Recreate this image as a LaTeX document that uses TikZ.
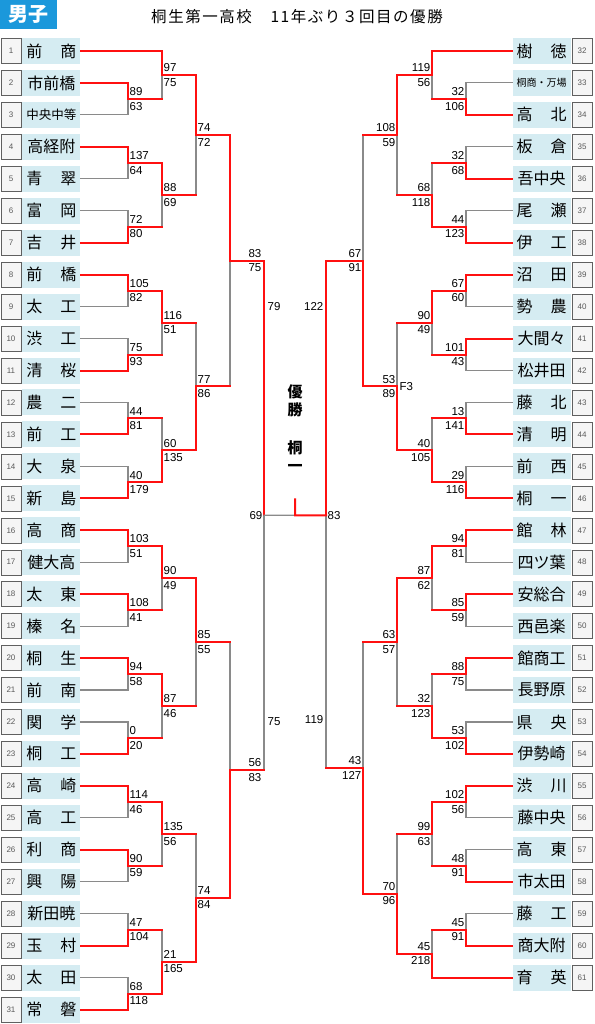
\documentclass[tikz,border=0pt]{standalone}
\usepackage{fontspec}
\setmainfont{Liberation Sans}
\newfontfamily\jp{Noto Sans CJK JP}
\newfontfamily\jpt[LetterSpace=10]{Noto Sans CJK JP}
\usetikzlibrary{positioning,calc}

\definecolor{hdrblue}{HTML}{1B98DB}
\definecolor{namefill}{HTML}{D5ECF2}
\definecolor{winred}{HTML}{FF1010}
\definecolor{lossgray}{HTML}{8A8A8A}

\newcommand{\bmatch}[9]{%
  \coordinate (#4t) at (#2 -| #1,0);
  \coordinate (#4b) at (#3 -| #1,0);
  \coordinate (#4) at ($(#4t)!.5!(#4b)$);
  \ifnum#5>#6\relax
    \draw[grayln] (#4) -- (#4b);
    \draw[#8] (#3) -- (#4b);
    \draw[#7] (#2) -- (#4t);
    \draw[redln] (#4t) -- (#4);
  \else
    \draw[grayln] (#4t) -- (#4);
    \draw[#7] (#2) -- (#4t);
    \draw[#8] (#3) -- (#4b);
    \draw[redln] (#4b) -- (#4);
  \fi
  \node[score, above #9] (#4u) at (#4) {#5};
  \node[score, below #9] (#4d) at (#4) {#6};
}

\begin{document}
\begin{tikzpicture}[
  x=1pt, y=-1pt,
  numbox/.style={draw=gray!75!black, fill=gray!8, minimum width=20pt, minimum height=25pt, inner sep=0pt, font=\fontsize{8}{8}\selectfont, text=gray!70!black},
  namebox/.style={fill=namefill, minimum width=58pt, minimum height=26pt, text width=50pt, align=center, inner sep=0pt, font=\jp\fontsize{16}{16}\selectfont},
  redln/.style={draw=winred, line width=2pt, line cap=rect},
  grayln/.style={draw=lossgray, line width=1.1pt, line cap=rect},
  score/.style={font=\fontsize{11.5}{11.5}\selectfont, inner xsep=1.5pt, inner ysep=3pt}]
  \useasboundingbox (0,0) rectangle (594,1024);

  \node[fill=hdrblue, text=white, minimum width=57pt, minimum height=29pt, inner sep=0pt, font=\jp\bfseries\fontsize{20}{20}\selectfont] (sex) at (28.5,14.5) {男子};
  \node[font=\jpt\fontsize{15.5}{15.5}\selectfont] (title) at (297,17) {桐生第一高校　11年ぶり３回目の優勝};

  \foreach \i/\nm in {1/前\hfill 商, 2/市前橋, 3/{\fontsize{12.5}{12.5}\selectfont 中央中等}, 4/高経附, 5/青\hfill 翠, 6/富\hfill 岡, 7/吉\hfill 井, 8/前\hfill 橋, 9/太\hfill 工, 10/渋\hfill 工, 11/清\hfill 桜, 12/農\hfill 二, 13/前\hfill 工, 14/大\hfill 泉, 15/新\hfill 島, 16/高\hfill 商, 17/健大高, 18/太\hfill 東, 19/榛\hfill 名, 20/桐\hfill 生, 21/前\hfill 南, 22/関\hfill 学, 23/桐\hfill 工, 24/高\hfill 崎, 25/高\hfill 工, 26/利\hfill 商, 27/興\hfill 陽, 28/新田暁, 29/玉\hfill 村, 30/太\hfill 田, 31/常\hfill 磐}{
    \node[numbox] (lb\i) at (11,{51+(\i-1)*31.95}) {\i};
    \node[namebox, right=1pt of lb\i] (ln\i) {\nm};
  }
  \foreach \j/\nm in {32/樹\hfill 徳, 33/{\fontsize{10}{10}\selectfont 桐商・万場}, 34/高\hfill 北, 35/板\hfill 倉, 36/吾中央, 37/尾\hfill 瀬, 38/伊\hfill 工, 39/沼\hfill 田, 40/勢\hfill 農, 41/大間々, 42/松井田, 43/藤\hfill 北, 44/清\hfill 明, 45/前\hfill 西, 46/桐\hfill 一, 47/館\hfill 林, 48/四ツ葉, 49/安総合, 50/西邑楽, 51/館商工, 52/長野原, 53/県\hfill 央, 54/伊勢崎, 55/渋\hfill 川, 56/藤中央, 57/高\hfill 東, 58/市太田, 59/藤\hfill 工, 60/商大附, 61/育\hfill 英}{
    \node[numbox] (rb\j) at (582,{51+(\j-32)*31.95}) {\j};
    \node[namebox, left=1pt of rb\j] (rn\j) {\nm};
  }

  % left half
  \bmatch{128}{ln2.east}{ln3.east}{a23}{89}{63}{redln}{grayln}{right}
  \bmatch{162}{ln1.east}{a23}{a13}{97}{75}{redln}{redln}{right}
  \bmatch{128}{ln4.east}{ln5.east}{a45}{137}{64}{redln}{grayln}{right}
  \bmatch{128}{ln6.east}{ln7.east}{a67}{72}{80}{grayln}{redln}{right}
  \bmatch{162}{a45}{a67}{a47}{88}{69}{redln}{redln}{right}
  \bmatch{196}{a13}{a47}{a17}{74}{72}{redln}{redln}{right}
  \bmatch{128}{ln8.east}{ln9.east}{a89}{105}{82}{redln}{grayln}{right}
  \bmatch{128}{ln10.east}{ln11.east}{a1011}{75}{93}{grayln}{redln}{right}
  \bmatch{162}{a89}{a1011}{a811}{116}{51}{redln}{redln}{right}
  \bmatch{128}{ln12.east}{ln13.east}{a1213}{44}{81}{grayln}{redln}{right}
  \bmatch{128}{ln14.east}{ln15.east}{a1415}{40}{179}{grayln}{redln}{right}
  \bmatch{162}{a1213}{a1415}{a1215}{60}{135}{redln}{redln}{right}
  \bmatch{196}{a811}{a1215}{a815}{77}{86}{redln}{redln}{right}
  \bmatch{230}{a17}{a815}{a115}{83}{75}{redln}{redln}{left,xshift=33pt}
  \bmatch{128}{ln16.east}{ln17.east}{a1617}{103}{51}{redln}{grayln}{right}
  \bmatch{128}{ln18.east}{ln19.east}{a1819}{108}{41}{redln}{grayln}{right}
  \bmatch{162}{a1617}{a1819}{a1619}{90}{49}{redln}{redln}{right}
  \bmatch{128}{ln20.east}{ln21.east}{a2021}{94}{58}{redln}{grayln}{right}
  \bmatch{128}{ln22.east}{ln23.east}{a2223}{0}{20}{grayln}{redln}{right}
  \bmatch{162}{a2021}{a2223}{a2023}{87}{46}{redln}{redln}{right}
  \bmatch{196}{a1619}{a2023}{a1623}{85}{55}{redln}{redln}{right}
  \bmatch{128}{ln24.east}{ln25.east}{a2425}{114}{46}{redln}{grayln}{right}
  \bmatch{128}{ln26.east}{ln27.east}{a2627}{90}{59}{redln}{grayln}{right}
  \bmatch{162}{a2425}{a2627}{a2427}{135}{56}{redln}{redln}{right}
  \bmatch{128}{ln28.east}{ln29.east}{a2829}{47}{104}{grayln}{redln}{right}
  \bmatch{128}{ln30.east}{ln31.east}{a3031}{68}{118}{grayln}{redln}{right}
  \bmatch{162}{a2829}{a3031}{a2831}{21}{165}{redln}{redln}{right}
  \bmatch{196}{a2427}{a2831}{a2431}{74}{84}{redln}{redln}{right}
  \bmatch{230}{a1623}{a2431}{a1631}{56}{83}{redln}{redln}{left,xshift=33pt}

  % right half
  \bmatch{466}{rn33.west}{rn34.west}{b3334}{32}{106}{grayln}{redln}{left}
  \bmatch{432}{rn32.west}{b3334}{b3234}{119}{56}{redln}{redln}{left}
  \bmatch{466}{rn35.west}{rn36.west}{b3536}{32}{68}{grayln}{redln}{left}
  \bmatch{466}{rn37.west}{rn38.west}{b3738}{44}{123}{grayln}{redln}{left}
  \bmatch{432}{b3536}{b3738}{b3538}{68}{118}{redln}{redln}{left}
  \bmatch{397}{b3234}{b3538}{b3238}{108}{59}{redln}{redln}{left}
  \bmatch{466}{rn39.west}{rn40.west}{b3940}{67}{60}{redln}{grayln}{left}
  \bmatch{466}{rn41.west}{rn42.west}{b4142}{101}{43}{redln}{grayln}{left}
  \bmatch{432}{b3940}{b4142}{b3942}{90}{49}{redln}{redln}{left}
  \bmatch{466}{rn43.west}{rn44.west}{b4344}{13}{141}{grayln}{redln}{left}
  \bmatch{466}{rn45.west}{rn46.west}{b4546}{29}{116}{grayln}{redln}{left}
  \bmatch{432}{b4344}{b4546}{b4346}{40}{105}{redln}{redln}{left}
  \bmatch{397}{b3942}{b4346}{b3946}{53}{89}{redln}{redln}{left}
  \node[score, right, xshift=1pt] (f3) at (b3946) {F3};
  \bmatch{363}{b3238}{b3946}{b3246}{67}{91}{redln}{redln}{left}
  \bmatch{466}{rn47.west}{rn48.west}{b4748}{94}{81}{redln}{grayln}{left}
  \bmatch{466}{rn49.west}{rn50.west}{b4950}{85}{59}{redln}{grayln}{left}
  \bmatch{432}{b4748}{b4950}{b4750}{87}{62}{redln}{redln}{left}
  \bmatch{466}{rn51.west}{rn52.west}{b5152}{88}{75}{redln}{grayln}{left}
  \bmatch{466}{rn53.west}{rn54.west}{b5354}{53}{102}{grayln}{redln}{left}
  \bmatch{432}{b5152}{b5354}{b5154}{32}{123}{redln}{redln}{left}
  \bmatch{397}{b4750}{b5154}{b4754}{63}{57}{redln}{redln}{left}
  \bmatch{466}{rn55.west}{rn56.west}{b5556}{102}{56}{redln}{grayln}{left}
  \bmatch{466}{rn57.west}{rn58.west}{b5758}{48}{91}{grayln}{redln}{left}
  \bmatch{432}{b5556}{b5758}{b5558}{99}{63}{redln}{redln}{left}
  \bmatch{466}{rn59.west}{rn60.west}{b5960}{45}{91}{grayln}{redln}{left}
  \bmatch{432}{b5960}{rn61.west}{b5961}{45}{218}{redln}{redln}{left}
  \bmatch{397}{b5558}{b5961}{b5561}{70}{96}{redln}{redln}{left}
  \bmatch{363}{b4754}{b5561}{b4761}{43}{127}{redln}{redln}{left}

  % semifinals and final
  \coordinate (sLt) at (a115 -| 264,0);
  \coordinate (sLb) at (a1631 -| 264,0);
  \coordinate (sL) at ($(sLt)!.5!(sLb)$);
  \coordinate (sRt) at (b3246 -| 326,0);
  \coordinate (sRb) at (b4761 -| 326,0);
  \coordinate (sR) at (sL -| 326,0);
  \draw[grayln] (sL) -- (sLb);
  \draw[redln] (a1631) -- (sLb);
  \draw[redln] (a115) -- (sLt) -- (sL);
  \draw[grayln] (sR) -- (sRb);
  \draw[redln] (b4761) -- (sRb);
  \draw[redln] (b3246) -- (sRt) -- (sR);
  \node[score, anchor=west, xshift=2pt] (sLu) at ($(sLt)!.18!(sL)$) {79};
  \node[score, anchor=west, xshift=2pt] (sLd) at ($(sL)!.81!(sLb)$) {75};
  \node[score, anchor=east, xshift=-1pt] (sRu) at ($(sRt)!.18!(sR)$) {122};
  \node[score, anchor=east, xshift=-1pt] (sRd) at ($(sR)!.81!(sRb)$) {119};

  \coordinate (fin) at ($(sL)!.5!(sR)$);
  \coordinate (finup) at ($(fin)+(0,-16)$);
  \draw[grayln] (sL) -- (fin);
  \draw[redln] (finup) -- (fin) -- (sR);
  \node[score, left] (finl) at (sL) {69};
  \node[score, right] (finr) at (sR) {83};

  \node[font=\jp\bfseries\fontsize{15}{18}\selectfont, align=center] (yusho) at ($(fin)+(0,-114)$) {優\\勝};
  \node[font=\jp\bfseries\fontsize{15}{18}\selectfont, align=center] (champ) at ($(fin)+(0,-59)$) {桐\\一};
\end{tikzpicture}
\end{document}
